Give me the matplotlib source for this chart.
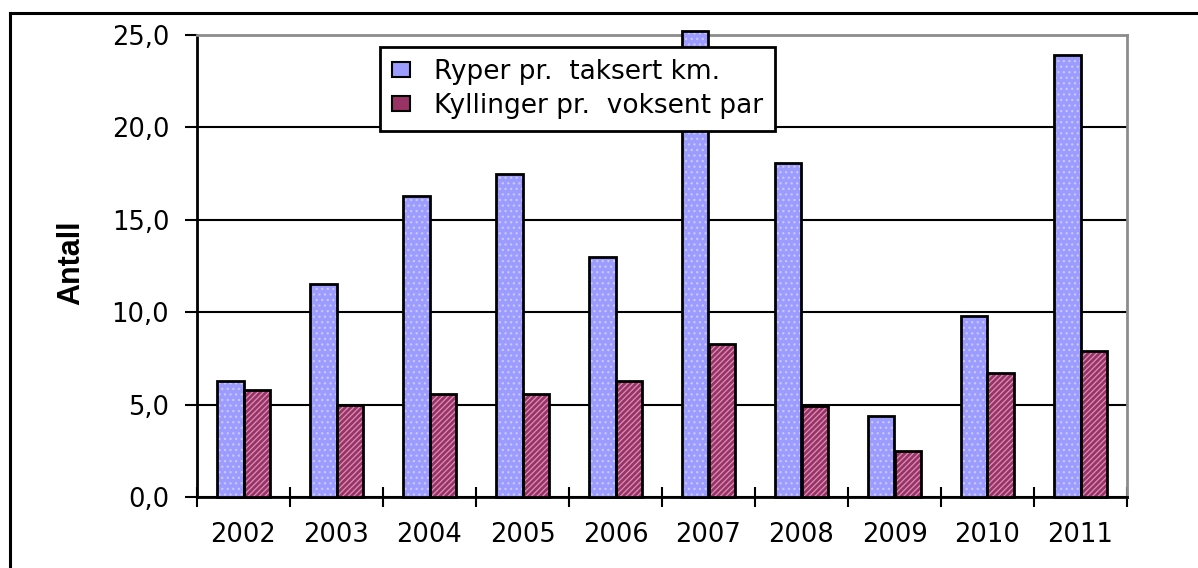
import matplotlib
matplotlib.use("Agg")
import matplotlib.pyplot as plt
from matplotlib.lines import Line2D
from matplotlib.patches import Patch
from matplotlib.ticker import FixedLocator, FuncFormatter
import numpy as np

years = ["2002", "2003", "2004", "2005", "2006", "2007", "2008", "2009", "2010", "2011"]
ryper = [6.3, 11.5, 16.3, 17.5, 13.0, 25.2, 18.1, 4.4, 9.8, 23.9]
kyllinger = [5.8, 5.0, 5.6, 5.6, 6.3, 8.3, 4.9, 2.5, 6.7, 7.9]
series_labels = ["Ryper pr.  taksert km.", "Kyllinger pr.  voksent par"]
y_label = "Antall"
y_ticks = [0, 5, 10, 15, 20, 25]

blue = "#9c9cff"
blue_hatch = "#c8c8ff"
red = "#993366"
red_hatch = "#d890b8"

plt.rcParams["font.family"] = ["DejaVu Sans"]
plt.rcParams["hatch.linewidth"] = 0.9

W, H = 1198, 568
fig = plt.figure(figsize=(W / 100, H / 100), dpi=100)
fig.patch.set_facecolor("white")
ax = fig.add_axes([197 / W, 1 - 497 / H, 930 / W, 462 / H])

x = np.arange(len(years))
w = 1 / 3.5

# filled, hatched bars
ax.bar(x - w / 2, ryper, w, color=blue, edgecolor=blue_hatch, hatch="...",
       linewidth=0, zorder=3, clip_on=False)
ax.bar(x + w / 2, kyllinger, w, color=red, edgecolor=red_hatch, hatch="//////",
       linewidth=0, zorder=3, clip_on=False)
# black outlines
ax.bar(x - w / 2, ryper, w, fill=False, edgecolor="black", linewidth=2,
       zorder=4, clip_on=False)
ax.bar(x + w / 2, kyllinger, w, fill=False, edgecolor="black", linewidth=2,
       zorder=4, clip_on=False)

ax.set_xlim(-0.5, len(years) - 0.5)
ax.set_ylim(0, 25)

# y axis
ax.yaxis.set_major_locator(FixedLocator(y_ticks))
ax.yaxis.set_major_formatter(FuncFormatter(lambda v, p: f"{v:.1f}".replace(".", ",")))
ax.tick_params(axis="y", direction="out", length=9, width=1.5, pad=11,
               labelsize=18.5, colors="black")
ax.grid(axis="y", color="black", linewidth=1.5, zorder=1)
ax.set_axisbelow(True)

# x axis: ticks at category boundaries, labels centered
ax.set_xticks(np.arange(-0.5, len(years), 1.0))
ax.set_xticklabels([])
ax.set_xticks(x, minor=True)
ax.set_xticklabels(years, minor=True)
ax.tick_params(axis="x", which="major", direction="inout", length=14, width=1.5)
ax.tick_params(axis="x", which="minor", length=0, pad=18, labelsize=18.5)

for s in ["left", "bottom"]:
    ax.spines[s].set_color("black")
    ax.spines[s].set_linewidth(2)
for s in ["top", "right"]:
    ax.spines[s].set_color("#8c8c8c")
    ax.spines[s].set_linewidth(2)

ax.set_ylabel(y_label, fontsize=22, fontweight="bold",
              family=["Liberation Sans", "DejaVu Sans"])
ax.yaxis.set_label_coords((71 - 197) / 930, (497 - 263) / 462)
ax.yaxis.label.set_verticalalignment("center")

handles = [Patch(facecolor=blue, edgecolor="black", linewidth=1.5),
           Patch(facecolor=red, edgecolor="black", linewidth=1.5)]
leg = ax.legend(handles, series_labels, loc="upper left",
                bbox_to_anchor=((380 - 197) / 930, (497 - 47) / 462),
                fontsize=19, frameon=True, fancybox=False, framealpha=1,
                edgecolor="black", borderpad=0.45, handlelength=0.7,
                handleheight=0.55, handletextpad=0.9, labelspacing=0.3,
                borderaxespad=0)
leg.get_frame().set_linewidth(2)
leg.set_zorder(10)

# outer chart frame (top and left edges visible)
fig.add_artist(Line2D([10 / W, 10 / W], [0, 1 - 13 / H], transform=fig.transFigure,
                      color="black", linewidth=2.2))
fig.add_artist(Line2D([10 / W, 1], [1 - 13 / H, 1 - 13 / H], transform=fig.transFigure,
                      color="black", linewidth=2.2))

fig.savefig("out.png", dpi=100, facecolor="white")
